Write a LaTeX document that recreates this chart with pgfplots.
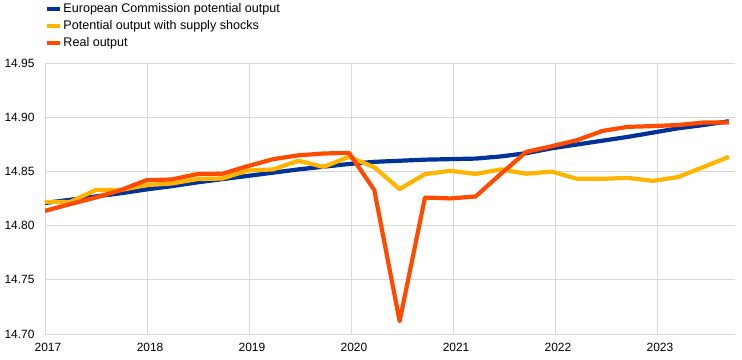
\documentclass[border=0pt]{standalone}
\usepackage{fontspec}
\setmainfont{Liberation Sans}
\usepackage{pgfplots}
\pgfplotsset{compat=1.18}
\definecolor{ecbblue}{HTML}{003299}
\definecolor{ecbyellow}{HTML}{FFB400}
\definecolor{ecborange}{HTML}{FF4B00}
\definecolor{gridgray}{HTML}{D9D9D9}
\begin{document}
\begin{tikzpicture}
\useasboundingbox (-45bp,-26bp) rectangle (697bp,334bp);
\begin{axis}[
  at={(0,0)}, anchor=south west,
  scale only axis,
  width=690bp, height=270.7bp,
  xmin=0, xmax=27.24,
  ymin=14.70, ymax=14.95,
  axis x line*=bottom,
  axis y line*=left,
  x axis line style={draw=gridgray, line width=0.8bp, -},
  y axis line style={draw=none},
  xtick={0,4.03,8.05,12.08,16.11,20.13,24.16},
  xticklabels={2017,2018,2019,2020,2021,2022,2023},
  ytick={14.70,14.75,14.80,14.85,14.90,14.95},
  major tick length=0pt,
  xmajorgrids, ymajorgrids,
  major grid style={draw=gridgray, line width=0.8bp},
  tick label style={font=\fontsize{12}{14}\selectfont},
  /pgf/number format/assume math mode=true,
  yticklabel={\pgfmathprintnumber[fixed,fixed zerofill,precision=2]{\tick}},
  yticklabel style={anchor=east, xshift=-7bp},
  xticklabel style={anchor=north, xshift=3bp, yshift=-6bp},
  legend style={
    at={(0,1.226)}, anchor=north west,
    draw=none, fill=none, inner sep=0pt, outer sep=0pt,
    font=\fontsize{12.6}{14}\selectfont,
    row sep=3.5bp,
    nodes={inner sep=1.5bp},
  },
  legend cell align=left,
  legend image code/.code={\draw[#1, line width=4bp] (0bp,0bp) -- (13bp,0bp);},
  every axis plot/.append style={line width=4.2bp, line join=round, mark=none},
]
\addplot[ecbblue] coordinates {
(0,14.821) (1,14.824) (2,14.827) (3,14.830) (4,14.8335) (5,14.8365) (6,14.840)
(7,14.843) (8,14.846) (9,14.849) (10,14.852) (11,14.8545) (12,14.857) (13,14.859)
(14,14.860) (15,14.861) (16,14.8615) (17,14.862) (18,14.864) (19,14.867) (20,14.8715)
(21,14.875) (22,14.8785) (23,14.882) (24,14.886) (25,14.890) (26,14.893) (27,14.8965)
};
\addlegendentry{European Commission potential output}
\addplot[ecbyellow] coordinates {
(0,14.822) (1,14.822) (2,14.833) (3,14.833) (4,14.8375) (5,14.839) (6,14.843)
(7,14.8436) (8,14.851) (9,14.852) (10,14.860) (11,14.8543) (12,14.8636) (13,14.854)
(14,14.8338) (15,14.8476) (16,14.8507) (17,14.8478) (18,14.852) (19,14.848) (20,14.850)
(21,14.8433) (22,14.8433) (23,14.8442) (24,14.8414) (25,14.845) (26,14.8543) (27,14.8636)
};
\addlegendentry{Potential output with supply shocks}
\addplot[ecborange] coordinates {
(0,14.8137) (1,14.820) (2,14.826) (3,14.833) (4,14.842) (5,14.8427) (6,14.8476)
(7,14.848) (8,14.855) (9,14.8614) (10,14.865) (11,14.8667) (12,14.8673) (13,14.833)
(14,14.7118) (15,14.826) (16,14.8252) (17,14.827) (18,14.848) (19,14.8682) (20,14.8734)
(21,14.879) (22,14.8875) (23,14.8913) (24,14.892) (25,14.893) (26,14.8953) (27,14.8953)
};
\addlegendentry{Real output}
\end{axis}
\end{tikzpicture}
\end{document}
